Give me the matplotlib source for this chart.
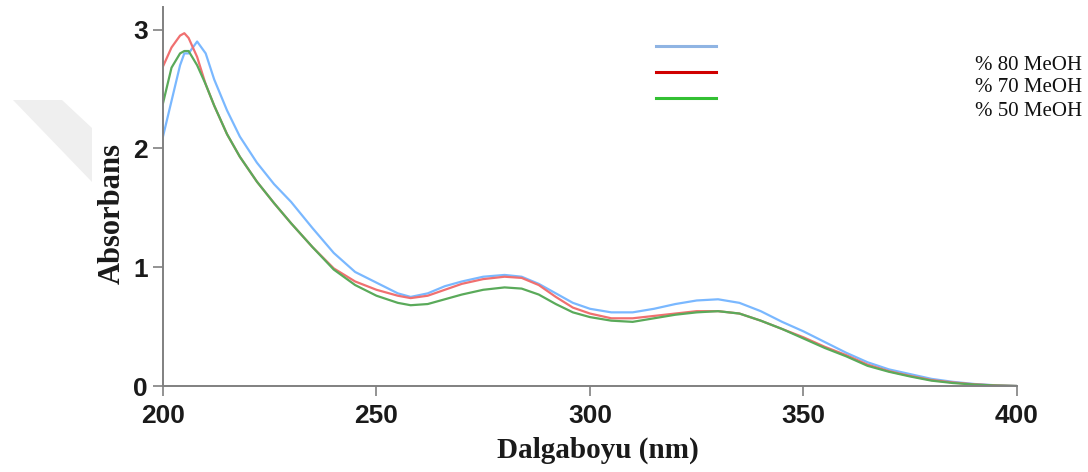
import matplotlib
matplotlib.use("Agg")
import matplotlib.pyplot as plt
from matplotlib.patches import Polygon

# 波长 (nm)
wavelength = [200, 202, 204, 205, 206, 208, 210, 212, 215, 218, 222, 226, 230, 235,
              240, 245, 250, 255, 258, 262, 266, 270, 275, 280, 284, 288, 292, 296,
              300, 305, 310, 315, 320, 325, 330, 335, 340, 345, 350, 355, 360, 365,
              370, 375, 380, 385, 390, 395, 400]

# 各甲醇浓度下的吸光度
meoh80 = [2.10, 2.40, 2.70, 2.80, 2.80, 2.90, 2.80, 2.58, 2.32, 2.10, 1.88, 1.70, 1.55, 1.33,
          1.12, 0.96, 0.87, 0.78, 0.75, 0.78, 0.84, 0.88, 0.92, 0.935, 0.92, 0.86, 0.78, 0.70,
          0.65, 0.62, 0.62, 0.65, 0.69, 0.72, 0.73, 0.70, 0.63, 0.54, 0.46, 0.37, 0.28, 0.20,
          0.14, 0.10, 0.06, 0.035, 0.017, 0.006, 0.0]
meoh70 = [2.69, 2.85, 2.95, 2.97, 2.93, 2.77, 2.54, 2.36, 2.12, 1.93, 1.72, 1.54, 1.37, 1.17,
          0.99, 0.88, 0.81, 0.76, 0.74, 0.76, 0.81, 0.86, 0.90, 0.92, 0.91, 0.85, 0.75, 0.66,
          0.61, 0.57, 0.57, 0.59, 0.61, 0.63, 0.63, 0.61, 0.55, 0.48, 0.41, 0.33, 0.26, 0.18,
          0.125, 0.085, 0.05, 0.03, 0.014, 0.005, 0.0]
meoh50 = [2.38, 2.68, 2.80, 2.82, 2.82, 2.70, 2.54, 2.36, 2.12, 1.93, 1.72, 1.54, 1.37, 1.17,
          0.98, 0.85, 0.76, 0.70, 0.68, 0.69, 0.73, 0.77, 0.81, 0.83, 0.82, 0.77, 0.69, 0.62,
          0.58, 0.55, 0.54, 0.57, 0.60, 0.62, 0.63, 0.61, 0.55, 0.48, 0.40, 0.32, 0.25, 0.17,
          0.12, 0.08, 0.045, 0.025, 0.012, 0.004, 0.0]

labels = ["% 80 MeOH", "% 70 MeOH", "% 50 MeOH"]
line_colors = ["#7ab8ff", "#f07070", "#5aaa5a"]      # 曲线颜色
legend_colors = ["#8fb4e3", "#d00000", "#33c033"]    # 图例线段颜色

fig = plt.figure(figsize=(10.88, 4.72), dpi=100)
ax = fig.add_axes([0.1498, 0.1822, 0.7849, 0.8028])

# 左侧浅灰水印
fig.patches.append(Polygon([(13, 372), (62, 372), (92, 344), (92, 290)],
                           closed=True, transform=None, fc="#efefef", ec="none", zorder=0))

for y, c in zip([meoh80, meoh70, meoh50], line_colors):
    ax.plot(wavelength, y, color=c, lw=1.6, solid_joinstyle="round")

ax.set_xlim(200, 400)
ax.set_ylim(0, 3.19)
ax.set_xticks([200, 250, 300, 350, 400])
ax.set_yticks([0, 1, 2, 3])
for s in ["top", "right"]:
    ax.spines[s].set_visible(False)
for s in ["left", "bottom"]:
    ax.spines[s].set_color("#808080")
    ax.spines[s].set_linewidth(1.4)
ax.tick_params(colors="#808080", length=7, width=1.2, labelcolor="#1a1a1a", labelsize=19)
ax.tick_params(axis="x", pad=6)
ax.tick_params(axis="y", pad=4)
for lab in ax.get_xticklabels() + ax.get_yticklabels():
    lab.set_fontweight("bold")
    lab.set_family("Liberation Sans")

# 坐标轴标题
ax.text(0.509, -0.169, "Dalgaboyu (nm)", transform=ax.transAxes, ha="center", va="center",
        family="Liberation Serif", fontweight="bold", fontsize=21, color="#1a1a1a")
ax.text(-0.0597, 0.456, "Absorbans", transform=ax.transAxes, ha="center", va="center",
        rotation=90, family="Liberation Serif", fontweight="bold", fontsize=22, color="#1a1a1a")

# 图例：左侧彩色线段，右侧文字
for i, (lab, c) in enumerate(zip(labels, legend_colors)):
    ly = 1 - (46 + i * 26) / 472
    fig.add_artist(plt.Line2D([656 / 1088, 716 / 1088], [ly, ly], color=c, lw=2.2))
    fig.text(1082 / 1088, 1 - (65 + i * 23) / 472, lab, ha="right", va="center",
             family="Liberation Serif", fontsize=15, color="#111111")

fig.savefig("out.png", dpi=100)
